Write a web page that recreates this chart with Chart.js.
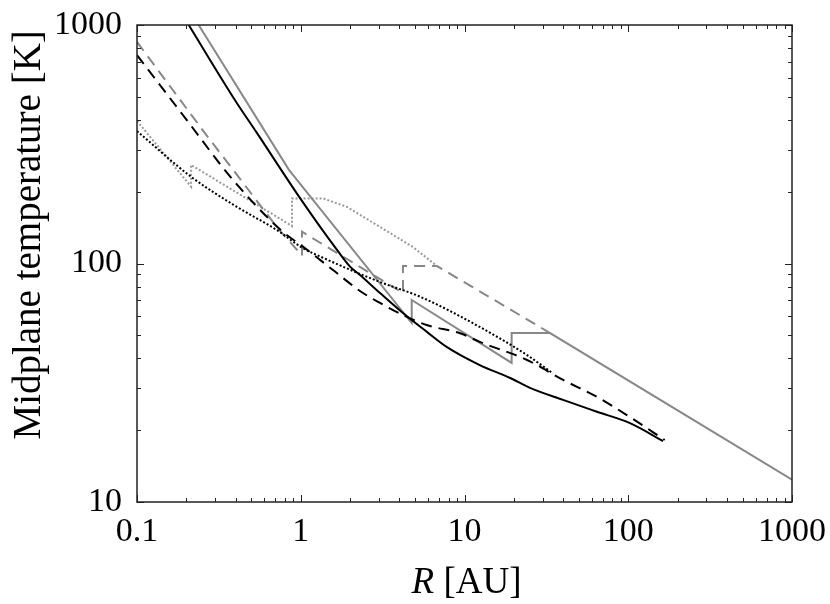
<!DOCTYPE html>
<html>
<head>
<meta charset="utf-8">
<script src="https://cdn.jsdelivr.net/npm/chart.js@4.4.1/dist/chart.umd.min.js"></script>
<style>
  html, body { margin: 0; padding: 0; background: #fff; }
  canvas { display: block; }
</style>
</head>
<body>
<canvas id="tempChart" width="830" height="604"></canvas>
<script>
// Axis ticks (labelled decades)
const xTicks = [0.1, 1, 10, 100, 1000];
const yTicks = [10, 100, 1000];

// Black solid
const blackSolidR = [0.207, 0.396, 0.541, 0.99, 1.665, 2.0, 2.3, 3.05, 4.21, 5.87, 7.82, 12.4, 19.0, 25.1, 40.0, 64.4, 102.5, 163];
const blackSolidT = [1000, 485, 352, 188, 114, 97.0, 89.5, 75.2, 62.0, 51.8, 44.6, 37.5, 33.1, 30.1, 26.8, 23.9, 21.4, 18.0];

// Grey solid (with jumps)
const greySolidR = [0.238, 0.847, 4.76, 4.76, 19.4, 19.4, 33.3, 1000];
const greySolidT = [1000, 247, 56.3, 70.3, 38.3, 51.1, 51.1, 12.4];

// Black dashed
const blackDashR = [0.1, 0.201, 0.386, 0.779, 1.0, 1.574, 2.3, 3.05, 4.21, 5.87, 9.39, 12.4, 24.1, 40.0, 64.4, 102.5, 167];
const blackDashT = [748, 400, 224, 135.5, 119.6, 93.9, 76.7, 68.3, 60.8, 55.2, 51.0, 46.9, 39.4, 32.5, 27.6, 22.7, 18.2];

// Grey dashed (with jumps)
const greyDashR = [0.1, 0.26, 0.716, 1.018, 1.018, 4.21, 4.21, 6.79, 33.3];
const greyDashT = [849, 352, 142, 108, 135.9, 75.2, 97.6, 97.6, 51.1];

// Black dotted
const blackDotR = [0.1, 0.214, 0.408, 0.716, 1.01, 1.38, 3.05, 5.35, 12.4, 24.1, 34.7];
const blackDotT = [359, 231, 172.6, 138, 117, 105.4, 83.6, 72.6, 54.2, 41.3, 34.6];

// Grey dotted (with jumps)
const greyDotR = [0.1, 0.214, 0.214, 0.884, 0.884, 1.37, 1.917, 3.05, 4.85, 6.79];
const greyDotT = [396, 210, 259, 143.6, 187.5, 187.5, 172.6, 142.3, 117.2, 97.6];

const toPoints = (rs, ts) => rs.map((r, i) => ({ x: r, y: ts[i] }));

const GREY = '#888888';
const LIGHT_GREY = '#9a9a9a';
const SERIF = '"Liberation Serif", "Times New Roman", serif';

function makeLine(rs, ts, color, dash, smooth) {
    return {
        data: toPoints(rs, ts),
        borderColor: color,
        borderWidth: 2,
        borderDash: dash,
        borderCapStyle: 'butt',
        pointRadius: 0,
        cubicInterpolationMode: smooth ? 'monotone' : 'default',
        tension: 0,
        fill: false
    };
}

// Inward tick marks on all four sides plus the frame, and the axis titles
const frameTicks = {
    id: 'frameTicks',
    afterDatasetsDraw(chart) {
        const { ctx, chartArea: a, scales: { x, y } } = chart;
        ctx.save();
        ctx.strokeStyle = '#222';
        ctx.lineWidth = 1;
        const majorLen = 7, minorLen = 4;

        const xMax = xTicks[xTicks.length - 1];
        xTicks.forEach(d => {
            for (let k = 1; k <= 9; k++) {
                const v = d * k;
                if (v > xMax) break;
                const px = Math.round(x.getPixelForValue(v)) + 0.5;
                const len = k === 1 ? majorLen : minorLen;
                ctx.beginPath();
                ctx.moveTo(px, a.bottom); ctx.lineTo(px, a.bottom - len);
                ctx.moveTo(px, a.top); ctx.lineTo(px, a.top + len);
                ctx.stroke();
            }
        });

        const yMax = yTicks[yTicks.length - 1];
        yTicks.forEach(d => {
            for (let k = 1; k <= 9; k++) {
                const v = d * k;
                if (v > yMax) break;
                const py = Math.round(y.getPixelForValue(v)) + 0.5;
                const len = k === 1 ? majorLen : minorLen;
                ctx.beginPath();
                ctx.moveTo(a.left, py); ctx.lineTo(a.left + len, py);
                ctx.moveTo(a.right, py); ctx.lineTo(a.right - len, py);
                ctx.stroke();
            }
        });

        ctx.lineWidth = 1.5;
        ctx.strokeRect(a.left, a.top, a.right - a.left, a.bottom - a.top);
        ctx.restore();
    },
    afterDraw(chart) {
        const { ctx, chartArea: a } = chart;
        ctx.save();
        ctx.fillStyle = '#000';
        ctx.textBaseline = 'alphabetic';

        // x title: italic R followed by upright [AU]
        ctx.font = 'italic 37px ' + SERIF;
        const rW = ctx.measureText('R').width;
        ctx.font = '37px ' + SERIF;
        const restW = ctx.measureText(' [AU]').width;
        const cx = (a.left + a.right) / 2 + 2;
        const startX = cx - (rW + restW) / 2;
        const baseY = a.bottom + 91;
        ctx.font = 'italic 37px ' + SERIF;
        ctx.textAlign = 'left';
        ctx.fillText('R', startX, baseY);
        ctx.font = '37px ' + SERIF;
        ctx.fillText(' [AU]', startX + rW, baseY);

        // y title
        ctx.translate(40, a.top + (a.bottom - a.top) * 0.44);
        ctx.rotate(-Math.PI / 2);
        ctx.textAlign = 'center';
        ctx.font = '39px ' + SERIF;
        ctx.fillText('Midplane temperature [K]', 0, 0);
        ctx.restore();
    }
};

const ctx = document.getElementById('tempChart').getContext('2d');

new Chart(ctx, {
    type: 'line',
    data: {
        datasets: [
            makeLine(blackSolidR, blackSolidT, '#000', [], true),
            makeLine(blackDashR, blackDashT, '#000', [11, 7], true),
            makeLine(blackDotR, blackDotT, '#000', [2, 2], true),
            makeLine(greySolidR, greySolidT, GREY, [], false),
            makeLine(greyDashR, greyDashT, GREY, [11, 7], false),
            makeLine(greyDotR, greyDotT, LIGHT_GREY, [2, 2], false)
        ]
    },
    options: {
        responsive: false,
        animation: false,
        devicePixelRatio: 1,
        layout: {
            padding: { top: 25, right: 38, left: 0, bottom: 0 }
        },
        plugins: {
            legend: { display: false },
            tooltip: { enabled: false }
        },
        scales: {
            x: {
                type: 'logarithmic',
                min: 0.1,
                max: 1000,
                grid: { display: false, drawTicks: false },
                border: { display: false },
                afterBuildTicks: scale => {
                    scale.ticks = xTicks.map(v => ({ value: v }));
                },
                afterFit: scale => {
                    scale.height = 102;
                    scale.paddingLeft = 0;
                    scale.paddingRight = 0;
                },
                ticks: {
                    color: '#000',
                    padding: 10,
                    maxRotation: 0,
                    autoSkip: false,
                    font: { family: SERIF, size: 34 },
                    callback: v => String(v)
                }
            },
            y: {
                type: 'logarithmic',
                min: 10,
                max: 1000,
                grid: { display: false, drawTicks: false },
                border: { display: false },
                afterBuildTicks: scale => {
                    scale.ticks = yTicks.map(v => ({ value: v }));
                },
                afterFit: scale => {
                    scale.width = 137;
                    scale.paddingTop = 0;
                    scale.paddingBottom = 0;
                },
                ticks: {
                    color: '#000',
                    padding: 15,
                    autoSkip: false,
                    font: { family: SERIF, size: 34 },
                    callback: v => String(v)
                }
            }
        }
    },
    plugins: [frameTicks]
});
</script>
</body>
</html>
